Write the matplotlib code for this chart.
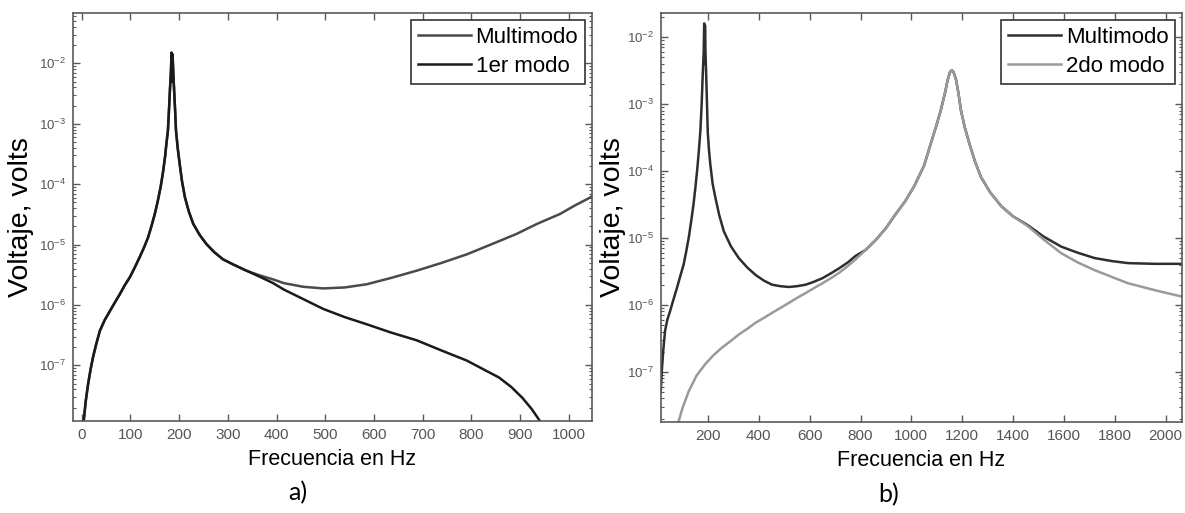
"""
Respuesta en frecuencia del voltaje: comparación multimodo vs modo individual.
(a) primer modo, (b) segundo modo. Valores leídos de la figura original.
"""
import numpy as np
import matplotlib
matplotlib.use('Agg')
import matplotlib.pyplot as plt
from matplotlib.ticker import LogLocator, NullFormatter, MultipleLocator

plt.rcParams['font.family'] = ['Liberation Sans', 'DejaVu Sans']
plt.rcParams['mathtext.fontset'] = 'custom'
plt.rcParams['mathtext.rm'] = 'Liberation Sans'
plt.rcParams['mathtext.it'] = 'Liberation Sans:italic'
plt.rcParams['mathtext.default'] = 'regular'

# ── panel (a): shared part (both curves overlap) ───────────────────────────
f_a_shared = [3, 4, 8, 13, 18, 23, 30, 37, 47, 58, 68, 78, 88, 99, 109, 119,
              128, 136, 143, 150, 156, 162, 167, 171, 174, 177, 179, 181, 183,
              184.5, 185.5, 186.5, 188, 190, 192, 193.5, 197, 201, 206, 212,
              220, 229, 242, 256, 272, 290, 313, 338]
v_a_shared = [9e-9, 1.2e-8, 2.5e-8, 4.9e-8, 8.5e-8, 1.35e-7, 2.3e-7, 3.7e-7,
              5.6e-7, 8.0e-7, 1.1e-6, 1.5e-6, 2.1e-6, 2.9e-6, 4.2e-6, 6.2e-6,
              9.0e-6, 1.3e-5, 2.0e-5, 3.2e-5, 5.2e-5, 9.0e-5, 1.6e-4, 2.8e-4,
              4.8e-4, 7.8e-4, 1.6e-3, 3.5e-3, 7e-3, 1.5e-2, 5e-3, 1.4e-2, 7e-3,
              3.2e-3, 1.5e-3, 7.8e-4, 4e-4, 2.2e-4, 1.1e-4, 6.0e-5, 3.5e-5,
              2.2e-5, 1.45e-5, 1.02e-5, 7.5e-6, 5.7e-6, 4.6e-6, 3.7e-6]

# multimodo tail (a)
f_a_multi = [365, 393, 415, 455, 496, 540, 585, 635, 688, 740, 791, 840, 893,
             935, 982, 1012, 1044, 1055]
v_a_multi = [3.1e-6, 2.65e-6, 2.3e-6, 2.0e-6, 1.88e-6, 1.95e-6, 2.2e-6,
             2.8e-6, 3.7e-6, 5.0e-6, 6.9e-6, 1.0e-5, 1.5e-5, 2.2e-5, 3.2e-5,
             4.4e-5, 6.0e-5, 7.0e-5]

# 1er modo tail (a)
f_a_modo1 = [365, 393, 415, 455, 496, 540, 585, 635, 688, 740, 791, 825, 857,
             882, 905, 924, 941, 948]
v_a_modo1 = [2.95e-6, 2.3e-6, 1.8e-6, 1.25e-6, 8.6e-7, 6.3e-7, 4.8e-7, 3.5e-7,
             2.6e-7, 1.75e-7, 1.2e-7, 8.6e-8, 6.3e-8, 4.4e-8, 2.9e-8, 1.9e-8,
             1.2e-8, 9e-9]

# ── panel (b) ──────────────────────────────────────────────────────────────
# multimodo, low-frequency part (first resonance)
f_b_multi_low = [14, 18, 24, 31, 40, 51, 64, 78, 91, 104, 114, 124, 134, 143,
                 150, 157, 164, 170, 175, 179, 183, 184, 185, 186.5, 188, 190,
                 193, 196, 199, 204, 209, 218, 229, 244, 262, 290, 321, 355,
                 387, 420, 452, 485, 518, 550, 584, 615, 650, 683, 715, 750,
                 781]
v_b_multi_low = [5e-8, 1.0e-7, 2.1e-7, 4.1e-7, 6.0e-7, 8.1e-7, 1.2e-6, 1.8e-6,
                 2.7e-6, 4.0e-6, 6.2e-6, 1.0e-5, 1.8e-5, 3.2e-5, 5.5e-5,
                 1.0e-4, 2.0e-4, 4.0e-4, 1.0e-3, 2.6e-3, 6e-3, 1.0e-2, 1.6e-2,
                 4e-3, 1.5e-2, 6e-3, 2.6e-3, 1.0e-3, 3.8e-4, 2.0e-4, 1.26e-4,
                 6.5e-5, 4.0e-5, 2.2e-5, 1.26e-5, 7.5e-6, 5.0e-6, 3.6e-6,
                 2.8e-6, 2.3e-6, 2.0e-6, 1.9e-6, 1.85e-6, 1.9e-6, 2.0e-6,
                 2.2e-6, 2.5e-6, 2.95e-6, 3.5e-6, 4.3e-6, 5.4e-6]

# 2do modo, low-frequency part
f_b_modo2_low = [78, 84, 100, 124, 155, 189, 220, 255, 290, 321, 355, 387, 420,
                 452, 485, 518, 550, 584, 617, 650, 683, 715, 750, 781]
v_b_modo2_low = [1.5e-8, 1.8e-8, 2.9e-8, 5.1e-8, 8.8e-8, 1.3e-7, 1.75e-7,
                 2.3e-7, 2.9e-7, 3.6e-7, 4.4e-7, 5.4e-7, 6.4e-7, 7.6e-7,
                 9.0e-7, 1.07e-6, 1.27e-6, 1.5e-6, 1.78e-6, 2.1e-6, 2.5e-6,
                 3.0e-6, 3.8e-6, 4.8e-6]

# shared part around the second resonance
f_b_shared = [820, 860, 900, 932, 975, 1011, 1050, 1077, 1100, 1116, 1133,
              1143, 1152, 1159, 1166, 1176, 1186, 1195, 1210, 1228, 1250,
              1274, 1310, 1353, 1400]
v_b_shared = [6.6e-6, 9.3e-6, 1.4e-5, 2.1e-5, 3.5e-5, 5.9e-5, 1.2e-4, 2.6e-4,
              5e-4, 8.1e-4, 1.5e-3, 2.3e-3, 3.0e-3, 3.2e-3, 3.0e-3, 2.3e-3,
              1.4e-3, 8.1e-4, 4.5e-4, 2.6e-4, 1.4e-4, 8.1e-5, 4.8e-5, 3.0e-5,
              2.1e-5]

f_b_multi_tail = [1458, 1520, 1590, 1655, 1721, 1790, 1853, 1960, 2075]
v_b_multi_tail = [1.55e-5, 1.05e-5, 7.4e-6, 6.0e-6, 5.0e-6, 4.5e-6, 4.2e-6,
                  4.1e-6, 4.1e-6]

f_b_modo2_tail = [1458, 1520, 1590, 1655, 1721, 1790, 1853, 1960, 2075]
v_b_modo2_tail = [1.5e-5, 9.5e-6, 5.9e-6, 4.3e-6, 3.3e-6, 2.6e-6, 2.1e-6,
                  1.65e-6, 1.3e-6]

labels_a = ['Multimodo', '1er modo']
labels_b = ['Multimodo', '2do modo']

# ── assemble curves ────────────────────────────────────────────────────────
fa_multi = np.r_[f_a_shared, f_a_multi]
va_multi = np.r_[v_a_shared, v_a_multi]
fa_modo1 = np.r_[f_a_shared, f_a_modo1]
va_modo1 = np.r_[v_a_shared, v_a_modo1]

fb_multi = np.r_[f_b_multi_low, f_b_shared, f_b_multi_tail]
vb_multi = np.r_[v_b_multi_low, v_b_shared, v_b_multi_tail]
fb_modo2 = np.r_[f_b_modo2_low, f_b_shared, f_b_modo2_tail]
vb_modo2 = np.r_[v_b_modo2_low, v_b_shared, v_b_modo2_tail]

AX_COL = '#5a5a5a'

fig = plt.figure(figsize=(11.85, 5.13), dpi=100)
ax_a = fig.add_axes([0.0616, 0.1793, 0.4380, 0.7953])
ax_b = fig.add_axes([0.5578, 0.1774, 0.4397, 0.7973])

ax_a.semilogy(fa_multi, va_multi, color='#4a4a4a', lw=1.8, label=labels_a[0])
ax_a.semilogy(fa_modo1, va_modo1, color='#1a1a1a', lw=1.8, label=labels_a[1])
ax_a.set_xlim(-18, 1048)
ax_a.set_ylim(1.2e-8, 6.8e-2)
ax_a.xaxis.set_major_locator(MultipleLocator(100))

ax_b.semilogy(fb_multi, vb_multi, color='#2e2e2e', lw=1.8, label=labels_b[0])
ax_b.semilogy(fb_modo2, vb_modo2, color='#9a9a9a', lw=1.8, label=labels_b[1])
ax_b.set_xlim(15, 2065)
ax_b.set_ylim(1.78e-8, 2.29e-2)
ax_b.xaxis.set_major_locator(MultipleLocator(200))

for ax in (ax_a, ax_b):
    ax.yaxis.set_major_locator(LogLocator(base=10, numticks=20))
    ax.yaxis.set_minor_locator(LogLocator(base=10, subs=np.arange(2, 10), numticks=20))
    ax.yaxis.set_minor_formatter(NullFormatter())
    ax.tick_params(which='both', direction='in', top=True, right=True,
                   color=AX_COL, labelcolor='#555555')
    ax.tick_params(axis='y', labelsize=9.5)
    ax.tick_params(axis='x', labelsize=11)
    ax.tick_params(which='major', length=5, width=1.0, pad=5)
    ax.tick_params(which='minor', length=2.5, width=0.8)
    for sp in ax.spines.values():
        sp.set_edgecolor(AX_COL); sp.set_linewidth(1.2)
    ax.set_ylabel('Voltaje, volts', fontsize=20.5)
    ax.set_xlabel('Frecuencia en Hz', fontsize=15.5)
    ax.xaxis.set_label_coords(0.5, -0.068)
    leg = ax.legend(loc='upper right', fontsize=16, frameon=True, fancybox=False,
                    framealpha=1, edgecolor='#333333', borderpad=0.32,
                    labelspacing=0.38, handlelength=2.4, handletextpad=0.2,
                    borderaxespad=0.3)
    leg.get_frame().set_linewidth(1.2)

ax_a.yaxis.set_label_coords(-0.075, 0.5)
ax_b.yaxis.set_label_coords(-0.068, 0.5)

fig.text(0.251, 0.04, 'a)', fontsize=18, family=['Lato', 'DejaVu Sans'],
         ha='center', va='center')
fig.text(0.750, 0.035, 'b)', fontsize=18, family=['Lato', 'DejaVu Sans'],
         ha='center', va='center')

fig.savefig('out.png', dpi=100)
plt.close(fig)
